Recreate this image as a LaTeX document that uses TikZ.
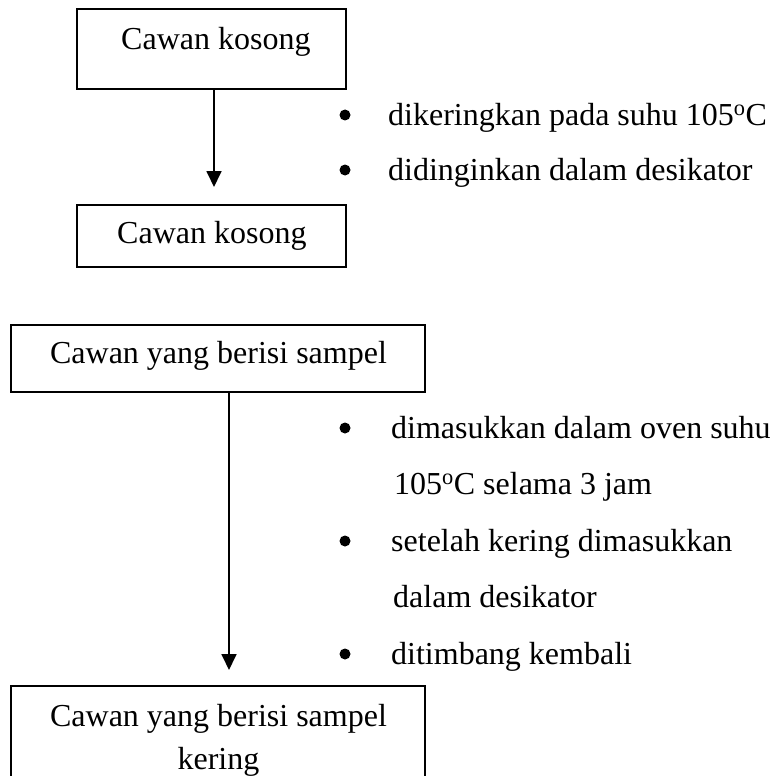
\documentclass[tikz,border=0pt]{standalone}
\usepackage{fontspec}
\setmainfont{Liberation Serif}
\usetikzlibrary{arrows.meta}
\begin{document}
\begin{tikzpicture}[x=1pt,y=-1pt,
  font=\fontsize{32}{38}\selectfont,
  box/.style={draw, line width=1.8pt, rectangle, inner sep=0pt},
  txt/.style={anchor=base west, inner sep=0pt},
  ctxt/.style={anchor=base, inner sep=0pt},
  bdot/.style={circle, fill=black, draw=none, inner sep=0pt, minimum size=11pt},
  arr/.style={line width=1.8pt, -{Triangle[width=15pt,length=16pt]}}]
\useasboundingbox (0,0) rectangle (780,776);
\clip (0,0) rectangle (780,776);

% boxes
\node[box, minimum width=269pt, minimum height=80pt] (b1) at (211.5,49) {};
\node[txt] (t1) at (121,50) {Cawan kosong};
\node[box, minimum width=269pt, minimum height=62pt] (b2) at (211.5,236) {};
\node[txt] (t2) at (117,243) {Cawan kosong};
\node[box, minimum width=414pt, minimum height=67pt] (b3) at (218,358.5) {};
\node[ctxt] (t3) at (218.5,363) {Cawan yang berisi sampel};
\node[box, minimum width=414pt, minimum height=112pt] (b4) at (218,742) {};
\node[ctxt] (t4a) at (218.5,726) {Cawan yang berisi sampel};
\node[ctxt] (t4b) at (218.5,769) {kering};

% arrows
\coordinate (tip1) at (214,187);
\draw[arr] (b1.south -| tip1) -- (tip1);
\coordinate (tip2) at (229,670);
\draw[arr] (b3.south -| tip2) -- (tip2);

% upper bullets
\node[bdot] (d1) at (345,115) {};
\node[txt] (l1) at (388,125) {dikeringkan pada suhu 105\textsuperscript{o}C};
\node[bdot] (d2) at (345,170) {};
\node[txt] (l2) at (388,180) {didinginkan dalam desikator};

% lower bullets
\node[bdot] (d3) at (345,428) {};
\node[txt] (l3) at (391,438) {dimasukkan dalam oven suhu};
\node[txt] (l3b) at (394,494) {105\textsuperscript{o}C selama 3 jam};
\node[bdot] (d4) at (345,541) {};
\node[txt] (l4) at (391,551) {setelah kering dimasukkan};
\node[txt] (l4b) at (393,607) {dalam desikator};
\node[bdot] (d5) at (345,654) {};
\node[txt] (l5) at (391,664) {ditimbang kembali};
\end{tikzpicture}
\end{document}
